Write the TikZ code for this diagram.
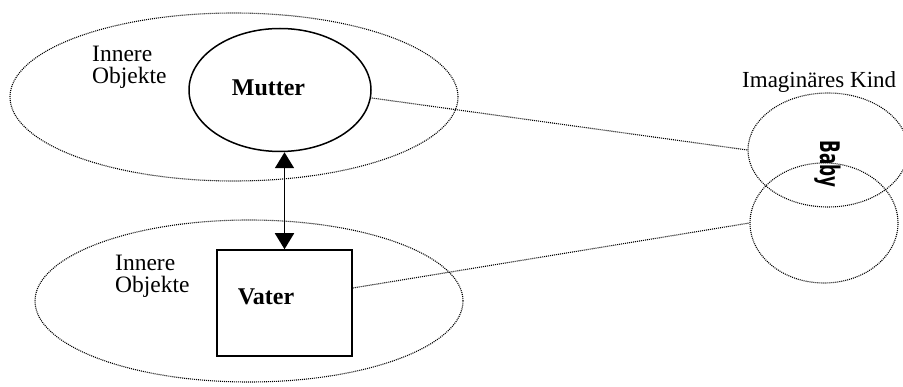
\documentclass[tikz,border=0pt]{standalone}
\usepackage{fontspec}
\setmainfont{Liberation Serif}
\newfontfamily\babyfont{DejaVu Sans}
\usepackage{tikz}
\usetikzlibrary{arrows.meta,shapes.geometric}

\begin{document}
\begin{tikzpicture}[x=1pt, y=-1pt,
		punkte/.style = {dash pattern=on 1pt off 1pt, line width=1.1pt},
		huelle/.style = {ellipse, draw, punkte, inner sep=0pt},
		objekt/.style = {draw, line width=1.5pt, inner sep=0pt},
		schrift/.style = {font=\fontsize{23.5}{22}\selectfont, align=left, anchor=west, inner sep=0pt},
		fett/.style = {font=\fontsize{24}{24}\bfseries, inner sep=0pt}]
		\useasboundingbox (0,0) rectangle (903,387);

		% innere Objekte
		\node (huelleoben) [huelle, minimum width=448pt, minimum height=168pt] at (234,97) {};
		\node (huelleunten) [huelle, minimum width=428pt, minimum height=162pt] at (249,301) {};
		\node (mutter) [objekt, ellipse, minimum width=182pt, minimum height=123pt] at (280,90) {};
		\node (vater) [objekt, rectangle, minimum width=135pt, minimum height=106pt] at (284.5,303) {};
		\node (muttertext) [fett] at (268.5,88) {Mutter};
		\node (vatertext) [fett] at (266,297) {Vater};
		\node (innenoben) [schrift] at (92,67) {Innere\\Objekte};
		\node (innenunten) [schrift] at (115,276) {Innere\\Objekte};

		% imaginaeres Kind
		\node (babyoben) [huelle, minimum width=160pt, minimum height=114pt] at (828,150) {};
		\node (babyunten) [huelle, minimum width=148pt, minimum height=120pt] at (824,223) {};
		\node (babytext) [inner sep=0pt, rotate=-90, xscale=0.62, font=\babyfont\fontsize{27}{27}\bfseries] at (828,164) {Baby};
		\node (kind) [schrift, font=\fontsize{23}{22}\selectfont] at (742,82) {Imaginäres Kind};

		\draw [line width=1.8pt, {Triangle[length=16pt,width=19pt]}-{Triangle[length=16pt,width=19pt]}]
			(vater.north |- mutter.south) -- (vater.north);
		\draw [punkte] (mutter.east) ++(0,8) coordinate (m) (m) -- (babyoben.west);
		\draw [punkte] (vater.east) ++(0,-15) coordinate (v) (v) -- (babyunten.west);
	\end{tikzpicture}
\end{document}
